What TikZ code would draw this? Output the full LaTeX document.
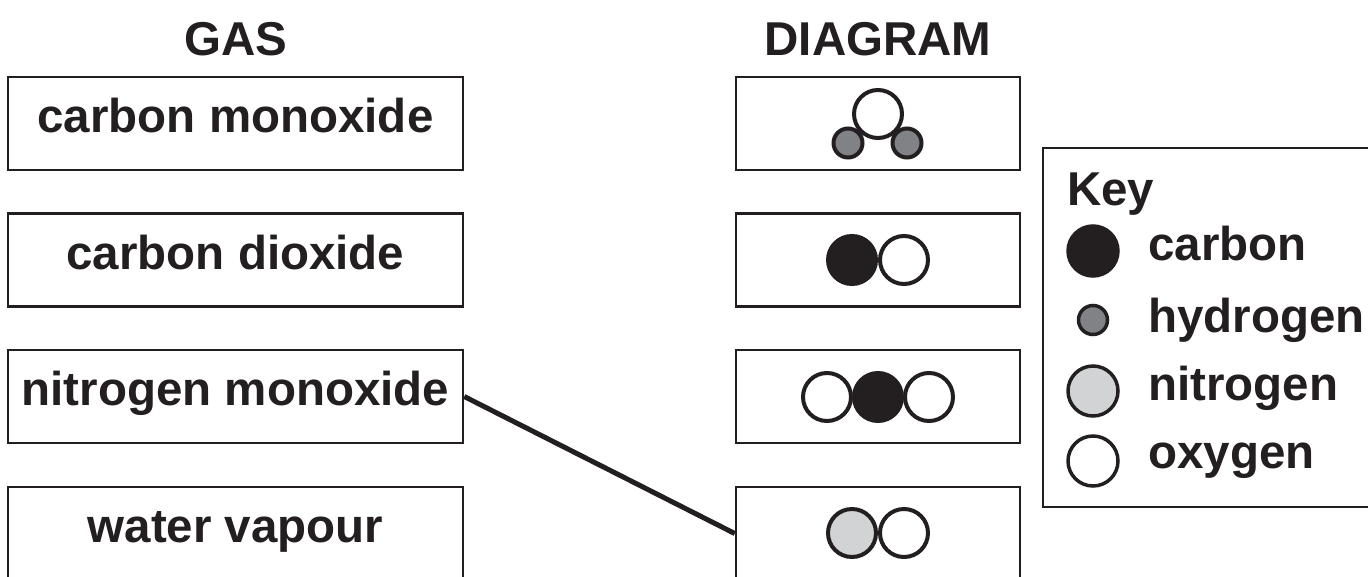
\documentclass[tikz,border=0pt]{standalone}
\usepackage{fontspec}
\setmainfont{Liberation Sans}
\definecolor{ink}{HTML}{231F20}
\definecolor{hgray}{HTML}{808285}
\definecolor{ngray}{HTML}{D1D3D4}
\begin{document}
\begin{tikzpicture}[x=1pt,y=-1pt,
  lbl/.style={font=\bfseries\fontsize{47.5}{57}\selectfont, text=ink, inner sep=0pt},
  gasbox/.style={draw=ink, line width=2.5pt, minimum width=455pt, minimum height=93pt, inner sep=0pt,
     text height=35pt, text depth=17pt, font=\bfseries\fontsize{47.5}{57}\selectfont, text=ink},
  diabox/.style={draw=ink, line width=2.5pt, minimum width=284pt, minimum height=93pt, inner sep=0pt},
  atom/.style={circle, draw=ink, line width=4pt, inner sep=0pt, minimum size=48pt},
  small/.style={circle, draw=ink, line width=4pt, inner sep=0pt, minimum size=29pt, fill=hgray},
  katom/.style={circle, draw=ink, line width=3.5pt, inner sep=0pt, minimum size=50pt},
  carb/.style={fill=ink}, oxy/.style={fill=white}, nit/.style={fill=ngray}
]
\useasboundingbox (0,0) rectangle (1368,576);
\fill[white] (0,0) rectangle (1368,576);

% headings
\node[lbl, anchor=base] (hgas) at (236,55) {GAS};
\node[lbl, anchor=base] (hdia) at (878,55) {DIAGRAM};

% gas boxes
\node[gasbox] (g1) at (235.5,123.5) {carbon monoxide};
\node[gasbox] (g2) at (235.5,260) {carbon dioxide};
\node[gasbox] (g3) at (235.5,396.5) {nitrogen monoxide};
\node[gasbox] (g4) at (235.5,533.5) {water vapour};

% diagram boxes
\node[diabox] (d1) at (878,123.5) {};
\node[diabox] (d2) at (878,260) {};
\node[diabox] (d3) at (878,396.5) {};
\node[diabox] (d4) at (878,533.5) {};

% molecule 1: water
\node[small] (h1) at (848,143) {};
\node[small] (h2) at (907,143) {};
\node[atom, oxy] (o1) at (878,114) {};
% molecule 2: CO
\node[atom, carb] (c2) at (852,260) {};
\node[atom, oxy] (o2) at (904,260) {};
% molecule 3: CO2
\node[atom, oxy] (o3a) at (827,397) {};
\node[atom, oxy] (o3b) at (929,397) {};
\node[atom, carb] (c3) at (878,397) {};
% molecule 4: NO
\node[atom, nit] (n4) at (852,533) {};
\node[atom, oxy] (o4) at (904,533) {};

% connector
\draw[ink, line width=5pt] (g3.east) -- (d4.west);

% key
\draw[ink, line width=2.5pt] (1043,148) rectangle (1375,507);
\node[lbl, anchor=base west] (key) at (1067,205) {Key};
\node[katom, carb] (kc) at (1093,251) {};
\node[circle, draw=ink, line width=3.5pt, inner sep=0pt, minimum size=29pt, fill=hgray] (kh) at (1093,320) {};
\node[katom, nit] (kn) at (1093,391) {};
\node[katom, oxy] (ko) at (1093,461) {};
\node[lbl, anchor=base west] (tc) at (1148,260) {carbon};
\node[lbl, anchor=base west] (th) at (1148,332) {hydrogen};
\node[lbl, anchor=base west] (tn) at (1148,400) {nitrogen};
\node[lbl, anchor=base west] (to) at (1148,468) {oxygen};
\end{tikzpicture}
\end{document}
